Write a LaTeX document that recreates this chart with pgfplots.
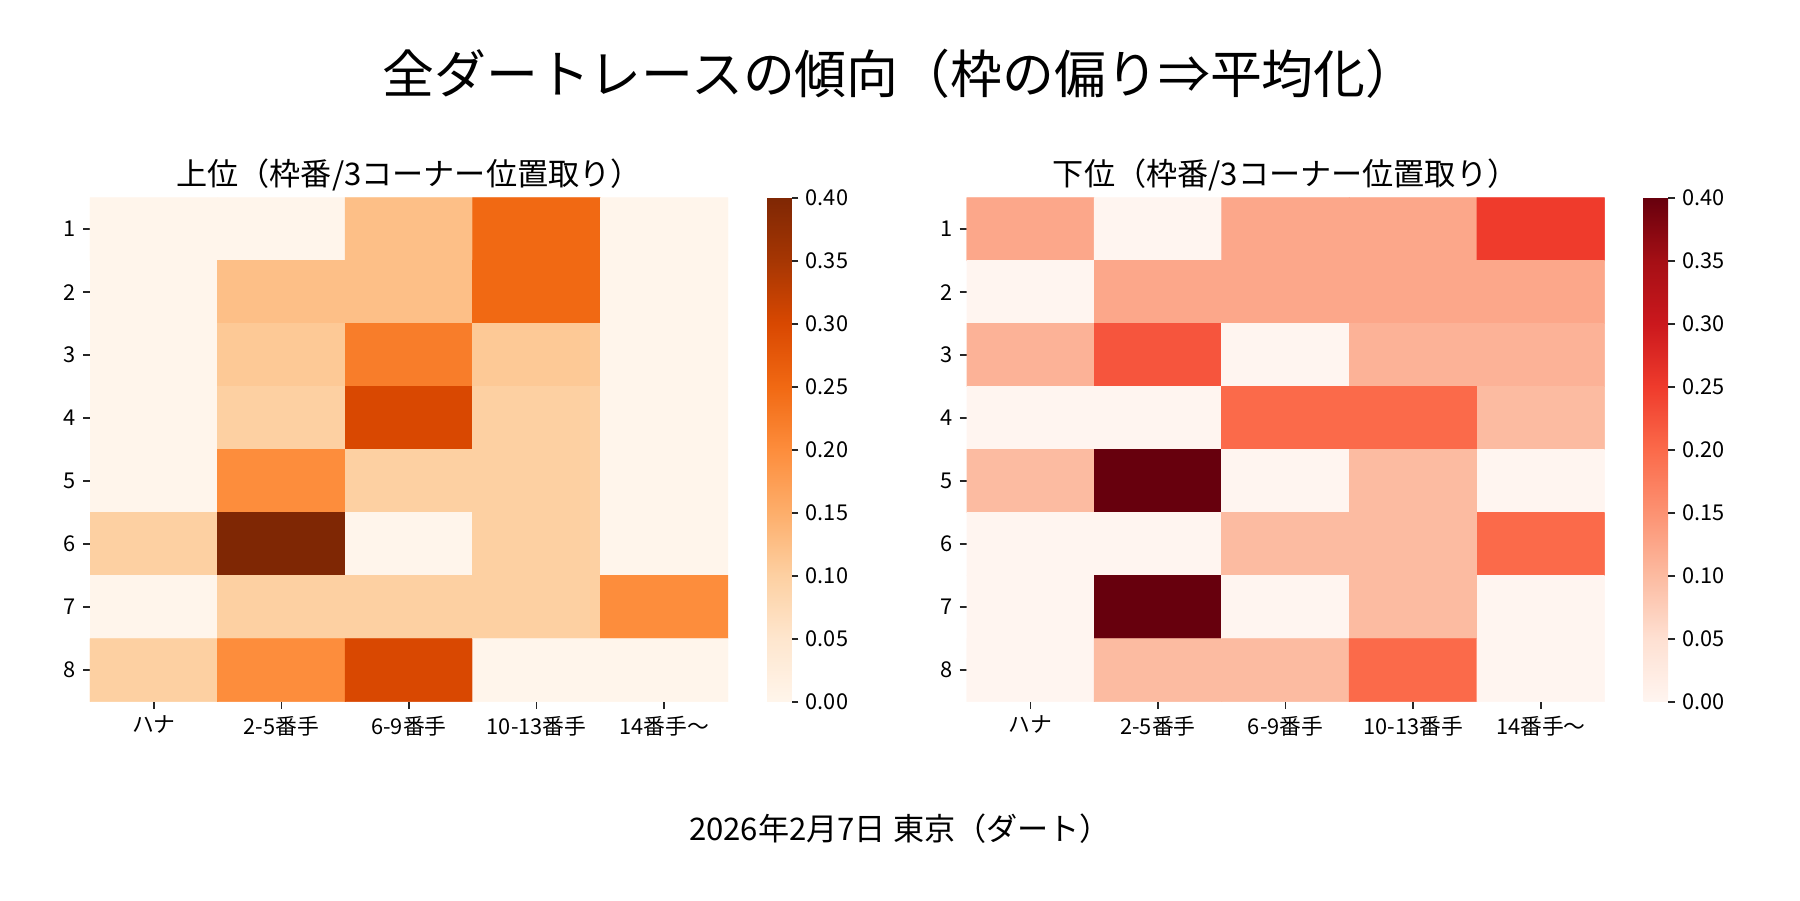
\documentclass[border=0pt]{standalone}
\usepackage{fontspec}
\setmainfont{Noto Sans CJK JP}
\usepackage{pgfplots}
\usepackage{pgfplotstable}
\pgfplotsset{compat=1.18}
\pgfplotsset{
  colormap={oranges}{rgb255=(255,245,235) rgb255=(254,230,206) rgb255=(253,208,162) rgb255=(253,174,107) rgb255=(253,141,60) rgb255=(241,105,19) rgb255=(217,72,1) rgb255=(166,54,3) rgb255=(127,39,4)},
  colormap={reds}{rgb255=(255,245,240) rgb255=(254,224,210) rgb255=(252,187,161) rgb255=(252,146,114) rgb255=(251,106,74) rgb255=(239,59,44) rgb255=(203,24,29) rgb255=(165,15,21) rgb255=(103,0,13)},
  hm/.style={
    anchor=south west,
    scale only axis, width=307.4pt, height=242.83pt,
    xmin=-0.5, xmax=4.5, ymin=0.5, ymax=8.5, y dir=reverse,
    xtick={0,1,2,3,4},
    xticklabels={ハナ,2-5番手,6-9番手,10-13番手,14番手〜},
    ytick={1,2,3,4,5,6,7,8},
    axis line style={draw=none},
    tick align=outside, xtick pos=left, ytick pos=left,
    major tick length=3.37pt,
    tick style={black!85, line width=0.8pt},
    tick label style={font=\fontsize{10.5}{12}\selectfont},
    /pgf/number format/assume math mode=true,
    point meta min=0, point meta max=0.4,
    colorbar,
    colorbar style={
      at={(parent axis.north east)}, anchor=north west, xshift=10.25pt,
      width=11.8pt,
      ytick={0,0.05,0.1,0.15,0.2,0.25,0.3,0.35,0.4},
      axis line style={draw=none},
      tick align=outside, ytick pos=right, yticklabel pos=right,
      major tick length=3.37pt,
      tick style={black!85, line width=0.8pt},
      yticklabel style={font=\fontsize{10.5}{12}\selectfont,
        /pgf/number format/.cd, fixed, fixed zerofill, precision=2, assume math mode=true},
    },
  }
}
\pgfplotstableread{
x y c
0 1 0
1 1 0
2 1 0.125
3 1 0.25
4 1 0
0 2 0
1 2 0.125
2 2 0.125
3 2 0.25
4 2 0
0 3 0
1 3 0.111
2 3 0.222
3 3 0.111
4 3 0
0 4 0
1 4 0.1
2 4 0.3
3 4 0.1
4 4 0
0 5 0
1 5 0.2
2 5 0.1
3 5 0.1
4 5 0
0 6 0.1
1 6 0.4
2 6 0
3 6 0.1
4 6 0
0 7 0
1 7 0.1
2 7 0.1
3 7 0.1
4 7 0.2
0 8 0.1
1 8 0.2
2 8 0.3
3 8 0
4 8 0
}\uppertab
\pgfplotstableread{
x y c
0 1 0.125
1 1 0
2 1 0.125
3 1 0.125
4 1 0.25
0 2 0
1 2 0.125
2 2 0.125
3 2 0.125
4 2 0.125
0 3 0.111
1 3 0.222
2 3 0
3 3 0.111
4 3 0.111
0 4 0
1 4 0
2 4 0.2
3 4 0.2
4 4 0.1
0 5 0.1
1 5 0.4
2 5 0
3 5 0.1
4 5 0
0 6 0
1 6 0
2 6 0.1
3 6 0.1
4 6 0.2
0 7 0
1 7 0.4
2 7 0
3 7 0.1
4 7 0
0 8 0
1 8 0.1
2 8 0.1
3 8 0.2
4 8 0
}\lowertab
\begin{document}
\begin{tikzpicture}
\useasboundingbox (0,0) rectangle (867.24pt,433.62pt);
\begin{axis}[hm, at={(43.36pt,95.54pt)}, colormap name=oranges]
\addplot[matrix plot*, mesh/cols=5, point meta=explicit] table[x=x,y=y,meta=c]{\uppertab};
\end{axis}
\begin{axis}[hm, at={(465.7pt,95.54pt)}, colormap name=reds]
\addplot[matrix plot*, mesh/cols=5, point meta=explicit] table[x=x,y=y,meta=c]{\lowertab};
\end{axis}
\node[inner sep=0pt, anchor=center, font=\fontsize{25}{29}\selectfont] at (433.62pt,397.9pt) {全ダートレースの傾向（枠の偏り⇒平均化）};
\node[inner sep=0pt, anchor=center, font=\fontsize{15}{17}\selectfont] at (197.06pt,349.3pt) {上位（枠番/3コーナー位置取り）};
\node[inner sep=0pt, anchor=center, font=\fontsize{15}{17}\selectfont] at (619.4pt,349.3pt) {下位（枠番/3コーナー位置取り）};
\node[inner sep=0pt, anchor=center, font=\fontsize{15}{17}\selectfont] at (433.62pt,34.2pt) {2026年2月7日 東京（ダート）};
\end{tikzpicture}
\end{document}
